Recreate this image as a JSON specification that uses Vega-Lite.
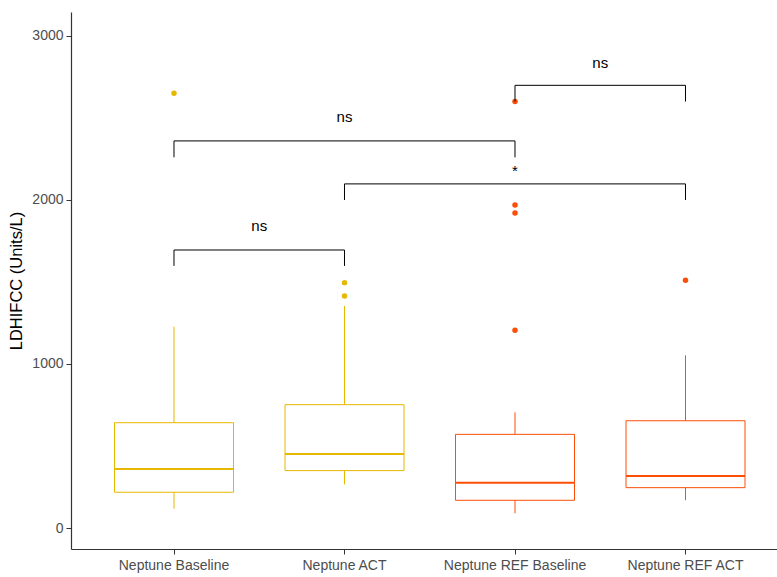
{
  "$schema": "https://vega.github.io/schema/vega-lite/v6.json",
  "width": 706,
  "height": 537,
  "autosize": "none",
  "padding": {"left": 71, "top": 12, "right": 0, "bottom": 28},
  "background": "white",
  "config": {
    "view": {"stroke": null},
    "font": "Liberation Sans",
    "axis": {
      "grid": false,
      "domainColor": "#333333",
      "domainWidth": 1.2,
      "tickColor": "#333333",
      "tickSize": 5,
      "labelColor": "#4D4D4D",
      "labelFont": "Liberation Sans",
      "labelFontSize": 14,
      "titleFont": "Liberation Sans",
      "titleFontSize": 16.5,
      "titleFontWeight": "normal",
      "titleColor": "black"
    }
  },
  "datasets": {
    "boxes": [
      {"group": "Neptune Baseline", "arm": "Neptune", "lower": 118, "q1": 218, "median": 360, "q3": 642, "upper": 1227},
      {"group": "Neptune ACT", "arm": "Neptune", "lower": 266, "q1": 350, "median": 451, "q3": 752, "upper": 1354},
      {"group": "Neptune REF Baseline", "arm": "Neptune REF", "lower": 90, "q1": 169, "median": 276, "q3": 571, "upper": 705},
      {"group": "Neptune REF ACT", "arm": "Neptune REF", "lower": 169, "q1": 246, "median": 317, "q3": 654, "upper": 1053}
    ],
    "outliers": [
      {"group": "Neptune Baseline", "arm": "Neptune", "value": 2650},
      {"group": "Neptune ACT", "arm": "Neptune", "value": 1496},
      {"group": "Neptune ACT", "arm": "Neptune", "value": 1415},
      {"group": "Neptune REF Baseline", "arm": "Neptune REF", "value": 2600},
      {"group": "Neptune REF Baseline", "arm": "Neptune REF", "value": 1970},
      {"group": "Neptune REF Baseline", "arm": "Neptune REF", "value": 1921},
      {"group": "Neptune REF Baseline", "arm": "Neptune REF", "value": 1205},
      {"group": "Neptune REF ACT", "arm": "Neptune REF", "value": 1510}
    ],
    "brackets": [
      {"from": 0, "to": 1, "mid": 0.5, "y": 1695, "tip": 1598, "label": "ns", "labelY": 1840},
      {"from": 0, "to": 2, "mid": 1, "y": 2360, "tip": 2260, "label": "ns", "labelY": 2503},
      {"from": 1, "to": 3, "mid": 2, "y": 2098, "tip": 2000, "label": "*", "labelY": 2175},
      {"from": 2, "to": 3, "mid": 2.5, "y": 2699, "tip": 2600, "label": "ns", "labelY": 2836}
    ]
  },
  "layer": [
    {
      "encoding": {
        "x": {
          "field": "group",
          "type": "nominal",
          "sort": ["Neptune Baseline", "Neptune ACT", "Neptune REF Baseline", "Neptune REF ACT"],
          "scale": {"paddingInner": 0, "paddingOuter": 0.0704, "align": 0.74},
          "axis": {"title": null, "labelAngle": 0, "labelPadding": 4}
        },
        "color": {
          "field": "arm",
          "type": "nominal",
          "scale": {"domain": ["Neptune", "Neptune REF"], "range": ["#E7B800", "#FC4E07"]},
          "legend": null
        }
      },
      "layer": [
        {
          "data": {"name": "boxes"},
          "mark": {"type": "rule", "strokeWidth": 1},
          "encoding": {
            "y": {"field": "lower", "type": "quantitative", "title": "LDHIFCC (Units/L)", "scale": {"domain": [-128, 3146], "nice": false, "zero": false}, "axis": {"values": [0, 1000, 2000, 3000], "format": "d", "titlePadding": 7, "labelPadding": 3}},
            "y2": {"field": "q1"}
          }
        },
        {
          "data": {"name": "boxes"},
          "mark": {"type": "rule", "strokeWidth": 1},
          "encoding": {
            "y": {"field": "q3", "type": "quantitative", "title": "LDHIFCC (Units/L)"},
            "y2": {"field": "upper"}
          }
        },
        {
          "data": {"name": "boxes"},
          "mark": {"type": "bar", "width": 119, "filled": false, "strokeWidth": 1, "opacity": 1},
          "encoding": {
            "y": {"field": "q1", "type": "quantitative", "title": "LDHIFCC (Units/L)"},
            "y2": {"field": "q3"}
          }
        },
        {
          "data": {"name": "boxes"},
          "mark": {"type": "tick", "thickness": 2, "size": 119, "opacity": 1},
          "encoding": {
            "y": {"field": "median", "type": "quantitative", "title": "LDHIFCC (Units/L)"}
          }
        },
        {
          "data": {"name": "outliers"},
          "mark": {"type": "circle", "size": 30, "opacity": 1},
          "encoding": {
            "y": {"field": "value", "type": "quantitative", "title": "LDHIFCC (Units/L)"}
          }
        }
      ]
    },
    {
      "data": {"name": "brackets"},
      "layer": [
        {
          "mark": {"type": "rule", "color": "black", "strokeWidth": 1},
          "encoding": {
            "x": {"field": "from", "type": "quantitative", "scale": {"domain": [-0.6041, 3.5367], "nice": false, "zero": false}, "axis": null},
            "x2": {"field": "to"},
            "y": {"field": "y", "type": "quantitative", "title": "LDHIFCC (Units/L)"}
          }
        },
        {
          "transform": [{"fold": ["from", "to"], "as": ["end", "pos"]}],
          "mark": {"type": "rule", "color": "black", "strokeWidth": 1},
          "encoding": {
            "x": {"field": "pos", "type": "quantitative", "scale": {"domain": [-0.6041, 3.5367], "nice": false, "zero": false}, "axis": null},
            "y": {"field": "tip", "type": "quantitative", "title": "LDHIFCC (Units/L)"},
            "y2": {"field": "y"}
          }
        },
        {
          "mark": {"type": "text", "color": "black", "fontSize": 15, "baseline": "middle", "align": "center", "font": "Liberation Sans"},
          "encoding": {
            "x": {"field": "mid", "type": "quantitative", "scale": {"domain": [-0.6041, 3.5367], "nice": false, "zero": false}, "axis": null},
            "y": {"field": "labelY", "type": "quantitative", "title": "LDHIFCC (Units/L)"},
            "text": {"field": "label"}
          }
        }
      ]
    }
  ],
  "resolve": {"scale": {"x": "independent"}}
}
